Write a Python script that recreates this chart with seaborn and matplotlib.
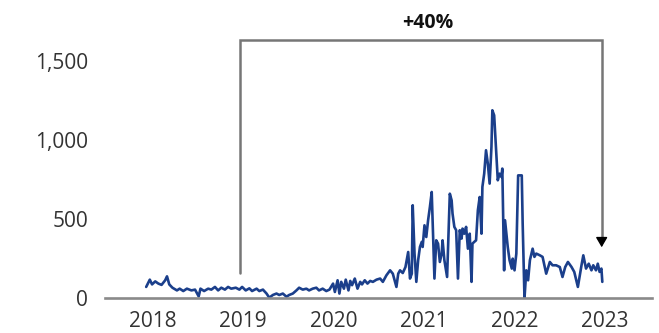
import matplotlib
matplotlib.use("Agg")
import matplotlib.pyplot as plt
import seaborn as sns
import pandas as pd

# Weekly series (decimal year, value)
years = [
    2017.93, 2017.97, 2017.995, 2018.03, 2018.065, 2018.10, 2018.14, 2018.16, 2018.185, 2018.22,
    2018.27, 2018.30, 2018.34, 2018.38, 2018.43, 2018.47, 2018.51, 2018.53, 2018.57, 2018.615,
    2018.65, 2018.69, 2018.725, 2018.76, 2018.80, 2018.835, 2018.87, 2018.92, 2018.96, 2018.99,
    2019.03, 2019.07, 2019.10, 2019.15, 2019.18, 2019.22, 2019.26, 2019.29, 2019.33, 2019.37,
    2019.40, 2019.44, 2019.48, 2019.51, 2019.55, 2019.59, 2019.62, 2019.66, 2019.70, 2019.73,
    2019.77, 2019.81, 2019.84, 2019.88, 2019.92, 2019.955,
    2019.995, 2020.015, 2020.045, 2020.065, 2020.085, 2020.115, 2020.135, 2020.165, 2020.185, 2020.205,
    2020.235, 2020.265, 2020.295, 2020.315, 2020.345, 2020.375, 2020.405, 2020.435, 2020.475, 2020.515,
    2020.545, 2020.585, 2020.625, 2020.655, 2020.675, 2020.695, 2020.715, 2020.735, 2020.765, 2020.795,
    2020.825, 2020.845, 2020.865, 2020.875, 2020.895, 2020.915, 2020.935, 2020.955, 2020.975, 2020.985,
    2021.005, 2021.025, 2021.045, 2021.065, 2021.085, 2021.095, 2021.115, 2021.135, 2021.155, 2021.175,
    2021.195, 2021.205, 2021.225, 2021.255, 2021.285, 2021.305, 2021.315, 2021.335, 2021.355, 2021.375,
    2021.395, 2021.415, 2021.425, 2021.445, 2021.465, 2021.485, 2021.505, 2021.525, 2021.535, 2021.555,
    2021.575, 2021.595, 2021.615, 2021.635, 2021.645, 2021.665, 2021.685, 2021.705, 2021.725, 2021.745,
    2021.755, 2021.775, 2021.795, 2021.815, 2021.835, 2021.855, 2021.865, 2021.875, 2021.885, 2021.895,
    2021.925, 2021.945,
    2021.97, 2021.98, 2022.00, 2022.02, 2022.04, 2022.06, 2022.08, 2022.09, 2022.11, 2022.13,
    2022.15, 2022.17, 2022.20, 2022.22, 2022.24, 2022.28, 2022.31, 2022.35, 2022.39, 2022.42,
    2022.46, 2022.50, 2022.53, 2022.56, 2022.59, 2022.63, 2022.66, 2022.70, 2022.74, 2022.76,
    2022.79, 2022.82, 2022.85, 2022.87, 2022.90, 2022.92, 2022.94, 2022.96, 2022.97,
]
values = [
    72, 118, 88, 107, 93, 85, 114, 139, 88, 67,
    50, 61, 46, 61, 50, 55, 12, 61, 46, 61,
    55, 72, 50, 67, 55, 72, 61, 67, 55, 72,
    50, 63, 46, 61, 46, 55, 30, 4, 21, 30,
    21, 30, 10, 21, 30, 50, 67, 55, 61, 50,
    61, 67, 50, 61, 46, 55,
    93, 40, 114, 30, 104, 61, 118, 50, 110, 83,
    125, 61, 104, 88, 114, 93, 110, 104, 118, 125,
    104, 146, 177, 156, 114, 72, 156, 177, 160, 198,
    293, 125, 156, 589, 283, 104, 241, 325, 357, 325,
    462, 388, 494, 578, 673, 494, 125, 367, 346, 230,
    283, 367, 241, 135, 662, 620, 536, 452, 431, 125,
    431, 378, 441, 409, 452, 314, 409, 104, 346, 357,
    367, 557, 641, 409, 705, 789, 937, 852, 726, 958,
    1190, 1158, 958, 747, 789, 768, 821, 494, 177, 494,
    325, 241,
    188, 251, 177, 283, 778, 778, 778, 473, 0, 177,
    114, 241, 314, 262, 283, 272, 262, 156, 230, 209,
    209, 198, 135, 198, 230, 198, 167, 72, 209, 272,
    188, 219, 177, 209, 177, 219, 167, 188, 104,
]

tick_years = [2018, 2019, 2020, 2021, 2022, 2023]
tick_labels = ["2018", "2019", "2020", "2021", "2022", "2023"]
y_ticks = [0, 500, 1000, 1500]
y_labels = ["0", "500", "1,000", "1,500"]

# Bracket annotation: start, end, change label
bracket_start = 2018.972
bracket_end = 2022.963
bracket_top = 1632
start_level = 160
end_level = 323
change_label = "+40%"

df = pd.DataFrame({"year": years, "value": values})

sns.set_style("white")
plt.rcParams["font.family"] = ["Open Sans", "DejaVu Sans"]

fig = plt.figure(figsize=(6.59, 3.33), dpi=100)
ax = fig.add_axes([105 / 659, 34.7 / 333, (652 - 105) / 659, (298.3 - 21.8) / 333])

sns.lineplot(data=df, x="year", y="value", ax=ax, color="#1b3f8b", linewidth=1.9)

ax.set_xlim(2017.475, 2023.519)
ax.set_ylim(0, 1750)
ax.set_xticks(tick_years)
ax.set_xticklabels(tick_labels)
ax.set_yticks(y_ticks)
ax.set_yticklabels(y_labels)
ax.set_xlabel("")
ax.set_ylabel("")

for side in ["top", "right", "left"]:
    ax.spines[side].set_visible(False)
ax.spines["bottom"].set_color("#8a8a8a")
ax.spines["bottom"].set_linewidth(1.9)

ax.tick_params(axis="both", length=0, labelsize=15, labelcolor="#333333")
ax.tick_params(axis="y", pad=12)
ax.tick_params(axis="x", pad=9)

# Bracket from the start level to the end level
ax.plot([bracket_start, bracket_start, bracket_end, bracket_end],
        [start_level, bracket_top, bracket_top, end_level + 45],
        color="#767676", linewidth=1.8, clip_on=False, solid_joinstyle="miter")
ax.annotate("", xy=(bracket_end, end_level), xytext=(bracket_end, end_level + 50),
            arrowprops=dict(arrowstyle="-|>,head_length=0.6,head_width=0.35",
                            color="black", lw=1.0, shrinkA=0, shrinkB=0),
            annotation_clip=False)
ax.text((bracket_start + bracket_end) / 2 + 0.07, 1744, change_label, ha="center", va="center",
        fontsize=14, fontweight="bold", color="#111111", clip_on=False)

fig.savefig("out.png", dpi=100)
